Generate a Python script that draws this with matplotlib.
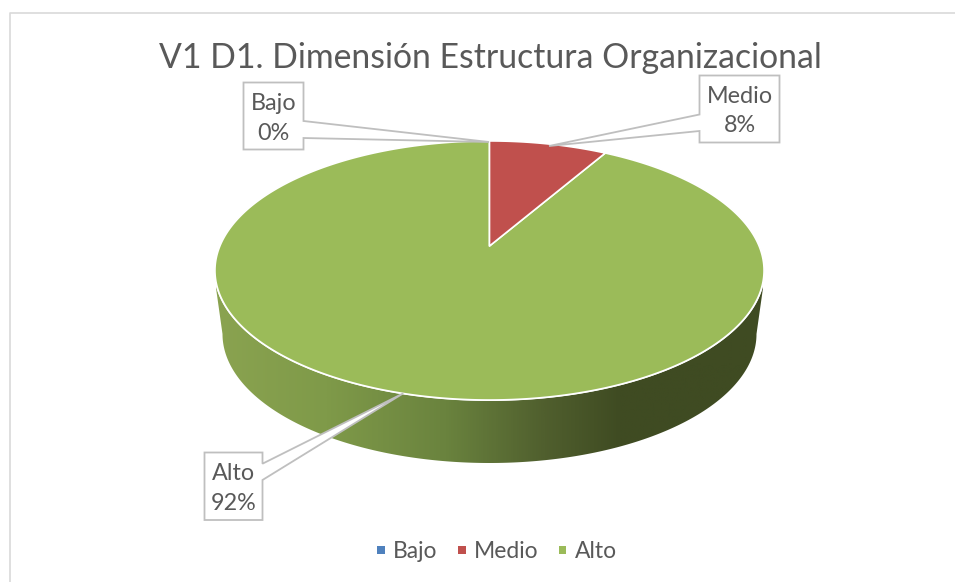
import numpy as np
import matplotlib
matplotlib.use("Agg")
import matplotlib.pyplot as plt
from matplotlib.colors import LinearSegmentedColormap
from matplotlib.patches import Polygon, Rectangle

# Data
categories = ["Bajo", "Medio", "Alto"]
values = [0.0, 8.33, 91.67]
percent_labels = ["0%", "8%", "92%"]
colors = ["#4f81bd", "#c0504d", "#9bbb59"]
title = "V1 D1. Dimensión Estructura Organizacional"

plt.rcParams["font.family"] = ["Lato", "DejaVu Sans"]
W, H = 955, 582
fig = plt.figure(figsize=(W / 100, H / 100), dpi=100)
ax = fig.add_axes([0, 0, 1, 1])
ax.set_xlim(0, W)
ax.set_ylim(H, 0)
ax.axis("off")

TEXT = "#595959"
LINE = "#bfbfbf"

# frame
ax.plot([9.5, 9.5, W], [H, 12.5, 12.5], color="#d9d9d9", lw=1.2, zorder=1)

# projection of the tilted disc
CX, APEX_Y = 489.5, 246.0
K, B, C = 0.189, 124.9, 269.6


def project(u, v):
    w = 1 + K * v
    return CX + C * u / w, APEX_Y - B * v / w


def sector(frac0, frac1):
    n = max(2, int(abs(frac1 - frac0) * 720))
    th = 2 * np.pi * np.linspace(frac0, frac1, n)
    x, y = project(np.sin(th), np.cos(th))
    return np.column_stack([x, y])


# side wall with gradient
th = np.linspace(0, 2 * np.pi, 721)
top_x, top_y = project(np.sin(th), np.cos(th))
bcx, bcy, brx, bry = 489.5, 334.0, 267.0, 129.0
phi = np.linspace(np.pi, 0, 300)
bot = np.column_stack([bcx + brx * np.cos(phi), bcy + bry * np.sin(phi)])
side = np.vstack([[[216, 288]], bot, [[763, 288]], [[763, 270]], [[216, 270]]])
cmap = LinearSegmentedColormap.from_list(
    "side",
    [(0.0, "#8aa350"), (0.2, "#7f9a49"), (0.42, "#6a833e"), (0.6, "#505f2e"),
     (0.74, "#3f4b22"), (1.0, "#3f4b22")],
)
grad = np.linspace(0, 1, 512)[None, :]
im = ax.imshow(grad, extent=[216, 763, 470, 260], cmap=cmap, aspect="auto", zorder=2)
clip = Polygon(side, closed=True, transform=ax.transData, fc="none", ec="none")
ax.add_patch(clip)
im.set_clip_path(clip)
ax.set_xlim(0, W)
ax.set_ylim(H, 0)

# top disc
fracs = np.cumsum([0] + values) / sum(values)
ax.add_patch(Polygon(np.column_stack([top_x, top_y]), closed=True, fc=colors[2],
                     ec="white", lw=1.4, zorder=3))
for i in [2, 1, 0]:
    if values[i] <= 0:
        continue
    pts = np.vstack([[[CX, APEX_Y]], sector(fracs[i], fracs[i + 1])])
    ax.add_patch(Polygon(pts, closed=True, fc=colors[i], ec="white", lw=1.2,
                         joinstyle="round", zorder=4))

# callouts
boxes = {
    0: dict(box=(243.5, 82.5, 303.5, 149.5), tail=[(303.5, 121), (489, 142), (303.5, 138)]),
    1: dict(box=(699.5, 75.5, 779.5, 142.5), tail=[(699.5, 114.5), (549, 146), (699.5, 131)]),
    2: dict(box=(204.5, 452.5, 262.5, 520), tail=[(262.5, 463.7), (403.3, 393.3), (262.5, 480)]),
}
for i, spec in boxes.items():
    x0, y0, x1, y1 = spec["box"]
    t = spec["tail"]
    if t[0][0] == x1:
        pts = [(x0, y0), (x1, y0), t[0], t[1], t[2], (x1, y1), (x0, y1)]
    else:
        pts = [(x0, y0), (x1, y0), (x1, y1), (x0, y1), t[2], t[1], t[0]]
    ax.add_patch(Polygon(pts, closed=True, fc="white", ec=LINE, lw=1.3,
                         joinstyle="miter", zorder=6))
    xc = (x0 + x1) / 2
    ax.text(xc, y0 + 21, categories[i], ha="center", va="center", fontsize=16.8,
            color=TEXT, zorder=7)
    ax.text(xc, y0 + 50.5, percent_labels[i], ha="center", va="center", fontsize=16.8,
            color=TEXT, zorder=7)

# title
ax.text(490, 58, title, ha="center", va="center", fontsize=24.3, color=TEXT, zorder=7)

# legend
legend_x = [377, 458, 558.5]
for x, name, col in zip(legend_x, categories, colors):
    ax.add_patch(Rectangle((x, 546), 7.5, 7.5, fc=col, ec="none", zorder=7))
    ax.text(x + 16, 551, name, ha="left", va="center", fontsize=16.5, color=TEXT, zorder=7)

fig.savefig("out.png", dpi=100)
